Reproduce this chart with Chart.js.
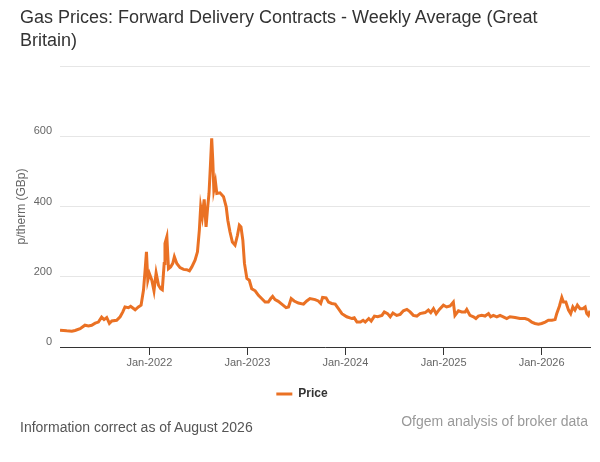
<!DOCTYPE html>
<html>
<head>
<meta charset="utf-8">
<script src="https://cdn.jsdelivr.net/npm/chart.js@4.4.1/dist/chart.umd.min.js"></script>
<style>
  body { margin: 0; background: #fff; font-family: "Liberation Sans", Arial, sans-serif; }
  #wrap { position: relative; width: 600px; height: 462px; }
  #titulo { position: absolute; left: 20px; top: 6px; font-size: 18px; line-height: 23px; color: #333; }
  #nota { position: absolute; left: 20px; top: 419px; font-size: 14px; color: #555; }
  #fonte { position: absolute; right: 12px; top: 413px; font-size: 14px; color: #999; }
</style>
</head>
<body>
<div id="wrap">
  <canvas id="grafico-gas" width="600" height="462"></canvas>
  <div id="titulo">Gas Prices: Forward Delivery Contracts - Weekly Average (Great<br>Britain)</div>
  <div id="nota">Information correct as of August 2026</div>
  <div id="fonte">Ofgem analysis of broker data</div>
</div>
<script>
// weekly average price, p/therm
const datas = [
  "2021-02-02","2021-02-27","2021-03-18","2021-03-30","2021-04-18","2021-05-06","2021-05-19","2021-05-31",
  "2021-06-13","2021-06-25","2021-07-07","2021-07-16","2021-07-26","2021-08-05","2021-08-14","2021-09-01",
  "2021-09-14","2021-09-24","2021-10-02","2021-10-15","2021-10-23","2021-11-09","2021-11-21","2021-12-01",
  "2021-12-10","2021-12-16","2021-12-21","2021-12-26","2022-01-01","2022-01-10","2022-01-18","2022-01-26",
  "2022-02-04","2022-02-12","2022-02-18","2022-02-25","2022-02-28","2022-03-07","2022-03-13","2022-03-21",
  "2022-03-29","2022-04-04","2022-04-13","2022-04-25","2022-05-08","2022-05-20","2022-05-30","2022-06-08",
  "2022-06-20","2022-06-29","2022-07-06","2022-07-11","2022-07-17","2022-07-24","2022-07-31","2022-08-05",
  "2022-08-11","2022-08-16","2022-08-21","2022-08-25","2022-08-29","2022-09-04","2022-09-09","2022-09-21",
  "2022-10-04","2022-10-14","2022-10-20","2022-10-28","2022-11-06","2022-11-16","2022-11-25","2022-12-02",
  "2022-12-08","2022-12-15","2022-12-21","2022-12-30","2023-01-08","2023-01-17","2023-01-30","2023-02-11",
  "2023-02-23","2023-03-08","2023-03-20","2023-03-29","2023-04-05","2023-04-14","2023-04-26","2023-05-09",
  "2023-05-25","2023-06-03","2023-06-13","2023-06-24","2023-07-10","2023-07-29","2023-08-10","2023-08-22",
  "2023-09-10","2023-09-22","2023-10-01","2023-10-08","2023-10-21","2023-10-30","2023-11-11","2023-11-24",
  "2023-12-06","2023-12-19","2024-01-06","2024-01-25","2024-02-03","2024-02-13","2024-02-26","2024-03-07",
  "2024-03-15","2024-03-28","2024-04-06","2024-04-18","2024-04-30","2024-05-16","2024-05-25","2024-06-06",
  "2024-06-16","2024-06-26","2024-07-10","2024-07-23","2024-08-04","2024-08-17","2024-08-29","2024-09-10",
  "2024-09-23","2024-10-05","2024-10-24","2024-11-05","2024-11-14","2024-11-24","2024-12-04","2024-12-16",
  "2024-12-31","2025-01-12","2025-01-25","2025-02-06","2025-02-12","2025-02-25","2025-03-09","2025-03-22",
  "2025-03-28","2025-04-09","2025-04-22","2025-05-01","2025-05-10","2025-05-23","2025-06-04","2025-06-17",
  "2025-06-25","2025-07-05","2025-07-18","2025-07-30","2025-08-11","2025-08-24","2025-09-05","2025-09-24",
  "2025-10-12","2025-10-31","2025-11-12","2025-11-25","2025-12-07","2025-12-20","2026-01-01","2026-01-14",
  "2026-01-26","2026-02-08","2026-02-20","2026-02-26","2026-03-08","2026-03-17","2026-03-23","2026-04-01",
  "2026-04-11","2026-04-19","2026-04-27","2026-05-05","2026-05-14","2026-05-24","2026-06-03","2026-06-12",
  "2026-06-18","2026-06-24","2026-06-30"
];
const precos = [
  48, 46, 45, 47, 52, 62, 60, 62,
  68, 71, 85, 78, 84, 67, 74, 76,
  86, 100, 114, 112, 116, 106, 114, 119,
  162, 219, 271, 190, 209, 190, 160, 211,
  176, 166, 163, 238, 295, 314, 223, 228,
  238, 257, 238, 226, 221, 220, 217, 228,
  247, 271, 333, 399, 371, 420, 342, 390,
  437, 513, 594, 532, 447, 470, 437, 439,
  428, 399, 361, 328, 299, 290, 318, 347,
  342, 304, 238, 195, 190, 166, 160, 147,
  138, 128, 128, 138, 144, 135, 130, 122,
  112, 114, 138, 131, 125, 122, 131, 138,
  135, 131, 124, 141, 140, 128, 124, 122,
  109, 95, 86, 81, 83, 71, 71, 76,
  71, 81, 74, 88, 86, 90, 100, 95,
  86, 97, 90, 93, 103, 107, 100, 90,
  88, 95, 98, 105, 98, 109, 95, 107,
  119, 114, 117, 128, 90, 103, 100, 100,
  107, 90, 86, 81, 88, 90, 88, 95,
  86, 90, 86, 90, 86, 81, 86, 84,
  81, 81, 78, 71, 67, 65, 67, 71,
  76, 76, 78, 95, 116, 141, 128, 128,
  105, 95, 114, 105, 119, 109, 109, 114,
  95, 90, 103
];
const anosEixo = [2022, 2023, 2024, 2025, 2026];
const ticksY = [0, 200, 400, 600, 800];

const paraMs = d => {
  const [a, m, dia] = d.split("-").map(Number);
  return Date.UTC(a, m - 1, dia);
};
const pontos = datas.map((d, i) => ({ x: paraMs(d), y: precos[i] }));
const laranja = "#ea7124";

new Chart(document.getElementById("grafico-gas"), {
  type: "line",
  data: {
    datasets: [{
      label: "Price",
      data: pontos,
      borderColor: laranja,
      backgroundColor: laranja,
      borderWidth: 3,
      pointRadius: 0,
      tension: 0,
      fill: false
    }]
  },
  options: {
    responsive: false,
    animation: false,
    layout: { padding: { top: 66, left: 14, right: 10, bottom: 52 } },
    plugins: {
      title: { display: false },
      tooltip: { enabled: false },
      legend: {
        position: "bottom",
        labels: {
          usePointStyle: true,
          pointStyle: "line",
          pointStyleWidth: 16,
          color: "#333",
          font: { family: "Liberation Sans", size: 12, weight: "bold" },
          padding: 10
        }
      }
    },
    scales: {
      x: {
        type: "linear",
        min: paraMs(datas[0]),
        max: paraMs(datas[datas.length - 1]),
        afterBuildTicks: s => { s.ticks = anosEixo.map(a => ({ value: Date.UTC(a, 0, 1) })); },
        afterFit: s => { s.height = 31; },
        ticks: {
          color: "#666",
          font: { family: "Liberation Sans", size: 11 },
          maxRotation: 0,
          autoSkip: false,
          padding: 1,
          callback: v => "Jan-" + new Date(v).getUTCFullYear()
        },
        grid: { drawOnChartArea: false, tickLength: 8, tickColor: "#333" },
        border: { color: "#333", width: 1 }
      },
      y: {
        min: 0,
        max: 800,
        afterBuildTicks: s => { s.ticks = ticksY.map(v => ({ value: v })); },
        afterFit: s => { s.width = 46; },
        ticks: {
          color: "#666",
          font: { family: "Liberation Sans", size: 11 },
          padding: 8,
          labelOffset: -5,
          callback: v => (v === 800 ? "" : v)
        },
        grid: { color: "#e6e6e6", drawTicks: false },
        border: { display: false },
        title: {
          display: true,
          text: "p/therm (GBp)",
          color: "#666",
          font: { family: "Liberation Sans", size: 12 },
          padding: 0
        }
      }
    }
  }
});
</script>
</body>
</html>
